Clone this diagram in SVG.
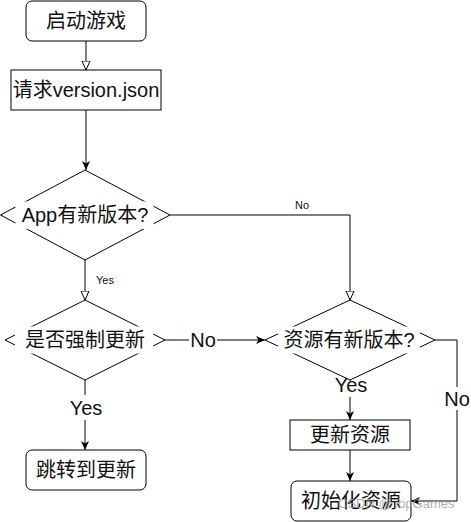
<svg xmlns="http://www.w3.org/2000/svg" width="471" height="522" viewBox="0 0 471 522">
<style>
  .shape { fill: #fff; stroke: #000; stroke-width: 1; }
  .edge { fill: none; stroke: #000; stroke-width: 1; }
  .bg { fill: #fff; stroke: none; }
  .t { font-family: "Liberation Sans", "Noto Sans CJK SC", sans-serif; font-size: 20px; fill: #111; text-anchor: middle; dominant-baseline: central; }
  .s { font-family: "Liberation Sans", "Noto Sans CJK SC", sans-serif; font-size: 11px; fill: #111; dominant-baseline: central; }
  .wm { font-family: "Liberation Sans", sans-serif; font-size: 13px; fill: #999; fill-opacity: 0.8; dominant-baseline: central; }
</style>
<defs>
  <marker id="open" viewBox="0 0 10 10" refX="9.5" refY="5" markerWidth="10" markerHeight="10" markerUnits="userSpaceOnUse" orient="auto">
    <path d="M0.5,1 L9.5,5 L0.5,9 Z" fill="#fff" stroke="#000" stroke-width="1"/>
  </marker>
  <marker id="fill" viewBox="0 0 10 10" refX="9" refY="5" markerWidth="10" markerHeight="10" markerUnits="userSpaceOnUse" orient="auto">
    <path d="M0,1 L9,5 L0,9 L2.5,5 Z" fill="#000"/>
  </marker>
</defs>

<g id="connectors">
  <path class="edge" d="M86,41 L86,70" marker-end="url(#open)"/>
  <path class="edge" d="M86,110 L86,170" marker-end="url(#fill)"/>
  <path class="edge" d="M85,260 L85,300" marker-end="url(#open)"/>
  <path class="edge" d="M170,215 L350,215 L350,300" marker-end="url(#open)"/>
  <path class="edge" d="M165,340 L265,340" marker-end="url(#fill)"/>
  <path class="edge" d="M85,380 L85,450" marker-end="url(#fill)"/>
  <path class="edge" d="M350,380 L350,420" marker-end="url(#fill)"/>
  <path class="edge" d="M350,450 L350,481" marker-end="url(#fill)"/>
  <path class="edge" d="M435,340 L457,340 L457,501 L411,501" marker-end="url(#fill)"/>
</g>

<g id="start">
  <rect class="shape" x="26" y="1" width="120" height="40" rx="6"/>
  <text class="t" x="86" y="21">启动游戏</text>
</g>
<g id="request">
  <rect class="shape" x="11" y="70" width="150" height="40"/>
  <text class="t" x="86" y="90">请求version.json</text>
</g>
<g id="app-new">
  <polygon class="shape" points="85,170 170,215 85,260 0.5,215"/>
  <rect class="bg" x="15.5" y="201.5" width="138" height="27.5"/>
  <text class="t" x="85" y="215">App有新版本?</text>
</g>
<g id="force-update">
  <polygon class="shape" points="85,300 165,340 85,380 5,340"/>
  <rect class="bg" x="15" y="326.5" width="138" height="27"/>
  <text class="t" x="85" y="340">是否强制更新</text>
</g>
<g id="res-new">
  <polygon class="shape" points="350,300 435,340 350,380 265,340"/>
  <rect class="bg" x="278" y="326.5" width="142" height="27"/>
  <text class="t" x="349" y="340">资源有新版本?</text>
</g>
<g id="goto-update">
  <rect class="shape" x="26" y="450" width="120" height="40" rx="6"/>
  <text class="t" x="86" y="470">跳转到更新</text>
</g>
<g id="update-res">
  <rect class="shape" x="290" y="420" width="120" height="30"/>
  <text class="t" x="350" y="435">更新资源</text>
</g>
<g id="init-res">
  <rect class="shape" x="291" y="481" width="120" height="40" rx="6"/>
  <text class="t" x="351" y="501">初始化资源</text>
</g>

<g id="edge-labels">
  <text class="s" x="96" y="280">Yes</text>
  <text class="s" x="295" y="205">No</text>
  <rect class="bg" x="189" y="328" width="28" height="24"/>
  <text class="t" x="203" y="340">No</text>
  <rect class="bg" x="69" y="395" width="33" height="25"/>
  <text class="t" x="86" y="407.5">Yes</text>
  <rect class="bg" x="334" y="381" width="33" height="16"/>
  <text class="t" x="351" y="385">Yes</text>
  <rect class="bg" x="444" y="387" width="27" height="23"/>
  <text class="t" x="457" y="398.5">No</text>
</g>

<text class="wm" x="338" y="503">CSDN @TopGames</text>
</svg>
